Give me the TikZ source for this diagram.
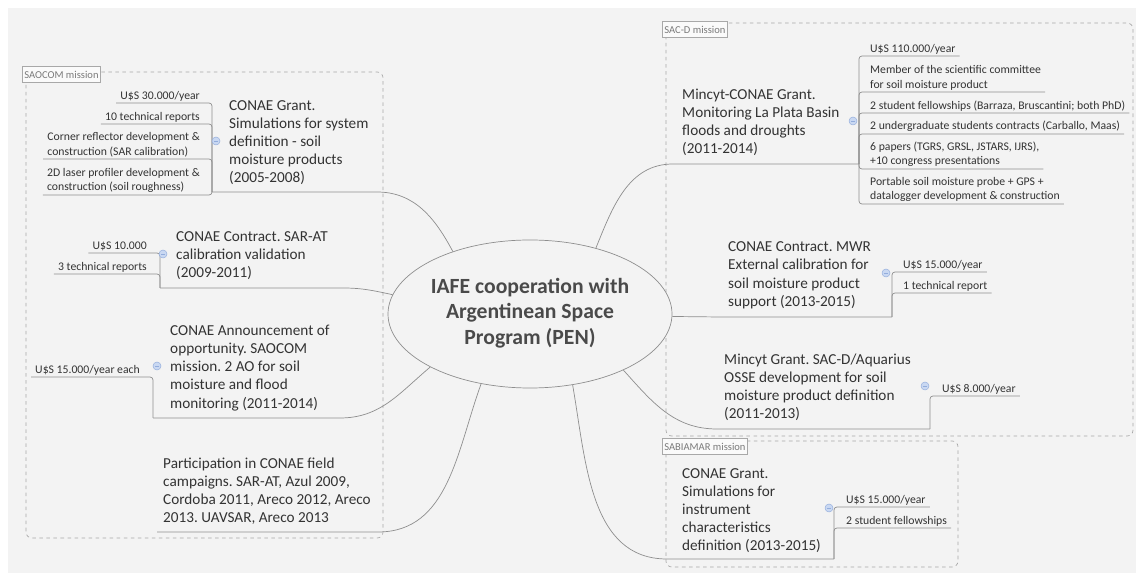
\documentclass[tikz,border=0pt]{standalone}
\usepackage{fontspec}
\setmainfont{Carlito}
\usetikzlibrary{shapes.geometric}
\frenchspacing

\definecolor{bgcol}{HTML}{F3F3F3}
\definecolor{linecol}{HTML}{8E8E8E}
\definecolor{boxcol}{HTML}{A8A8A8}
\definecolor{txtcol}{HTML}{333333}
\definecolor{rootcol}{HTML}{4A4A4A}
\definecolor{labcol}{HTML}{7A7A7A}
\definecolor{foldfill}{HTML}{C9D8F2}
\definecolor{folddraw}{HTML}{93ADDC}

\tikzset{
  topic/.style={anchor=south west, inner sep=0pt, align=left, text=txtcol,
    font=\fontsize{13}{15.5}\selectfont},
  subl/.style={anchor=south east, inner xsep=3.4pt, inner ysep=1.5pt, align=left,
    text=txtcol, font=\fontsize{10}{12.5}\selectfont},
  subr/.style={subl, anchor=south west},
  branch/.style={draw=linecol, line width=0.6pt},
  bracket/.style={branch, rounded corners=2.5pt},
  mission/.style={draw=boxcol, dashed, line width=0.6pt, rounded corners=5pt},
  missionlab/.style={draw=boxcol, line width=1pt, fill=white!60!bgcol, anchor=north west,
    inner xsep=1.5pt, inner ysep=0pt, minimum height=0.47cm, text=labcol,
    font=\fontsize{9}{10}\selectfont},
  fold/.style={circle, draw=folddraw, fill=foldfill, line width=0.4pt,
    minimum size=0.24cm, inner sep=0pt,
    path picture={\draw[folddraw, line width=0.5pt]
      ([xshift=-1.6pt]path picture bounding box.center) --
      ([xshift=1.6pt]path picture bounding box.center);}}
}

\begin{document}
\begin{tikzpicture}[x=0.03cm, y=-0.03cm]
\useasboundingbox (0,0) rectangle (1136,573);
\fill[white] (0,0) rectangle (1136,573);
\fill[bgcol] (8,8) rectangle (1136,573);

  % Mission frames
  \draw[mission] (26,72) rectangle (383,538);
  \draw[mission] (666,23) rectangle (1133,436);
  \draw[mission] (666,441) rectangle (958,567);

  % Central topic
  \node[ellipse, draw=linecol, fill=bgcol, line width=0.6pt, minimum width=8.52cm,
    minimum height=4.44cm, inner sep=0pt] (root) at (530,314) {};
  \node[font=\fontsize{18.5}{22}\selectfont\bfseries, text=rootcol, align=center]
    (roottxt) at (530,313) {IAFE cooperation with\\Argentinean Space\\Program (PEN)};

  %SAOCOM: 1st topic
  \node[topic] (t1) at (229,185) {CONAE Grant.\\Simulations for system\\definition - soil\\moisture products\\(2005-2008)};
  \coordinate (t1w) at (212,192);
  \coordinate (t1e) at (377,192);
  \draw[branch] (t1w) -- (t1e) to[out=0, in=118] (root.141.5);
  \foreach \y/\txt [count=\i] in {103/{U\$S 30.000/year}, 124/{10 technical reports},
      159/{Corner reflector development \&\\construction (SAR calibration)},
      195/{2D laser profiler development \&\\construction (soil roughness)}}{
    \node[subl] (s1\i) at (204,\y) {\txt};
    \draw[bracket] (s1\i.south west) -- (212,\y) -- (t1w);
  }
  \node[fold] (f1) at (216,141) {};

  %SAOCOM: 2nd topic
  \node[topic] (t2) at (176,280) {CONAE Contract. SAR-AT\\calibration validation\\(2009-2011)};
  \coordinate (t2w) at (160,288);
  \coordinate (t2e) at (343,288);
  \draw[branch] (t2w) -- (t2e) to[out=0, in=168] (root.172);
  \foreach \y/\txt [count=\i] in {253/{U\$S 10.000}, 274/{3 technical reports}}{
    \node[subl] (s2\i) at (151,\y) {\txt};
    \draw[bracket] (s2\i.south west) -- (160,\y) -- (t2w);
  }
  \node[fold] (f2) at (163,254) {};

  %SAOCOM: 3rd topic
  \node[topic] (t3) at (170,411) {CONAE Announcement of\\opportunity. SAOCOM\\mission. 2 AO for soil\\moisture and flood\\monitoring (2011-2014)};
  \coordinate (t3w) at (153,418);
  \coordinate (t3e) at (340,418);
  \draw[branch] (t3w) -- (t3e) to[out=0, in=220] (root.208.9);
  \node[subl] (s31) at (144,377) {U\$S 15.000/year each};
  \draw[bracket] (s31.south west) -- (153,377) -- (t3w);
  \node[fold] (f3) at (157,366) {};

  %SAOCOM: 4th topic
  \node[topic] (t4) at (163,525) {Participation in CONAE field\\campaigns. SAR-AT, Azul 2009,\\Cordoba 2011, Areco 2012, Areco\\2013. UAVSAR, Areco 2013};
  \coordinate (t4w) at (157,532);
  \coordinate (t4e) at (378,532);
  \draw[branch] (t4w) -- (t4e) to[out=0, in=250] (root.235.2);

  %SAC-D: 1st topic
  \node[topic] (r1) at (682,156) {Mincyt-CONAE Grant.\\Monitoring La Plata Basin\\floods and droughts\\(2011-2014)};
  \coordinate (r1w) at (673,164);
  \coordinate (r1e) at (859,164);
  \draw[branch] (root.45.4) to[out=68, in=180] (r1w) -- (r1e);
  \foreach \y/\txt [count=\i] in {56/{U\$S 110.000/year},
      92/{Member of the scientific committee\\for soil moisture product},
      113/{2 student fellowships (Barraza, Bruscantini; both PhD)},
      134/{2 undergraduate students contracts (Carballo, Maas)},
      169/{6 papers (TGRS, GRSL, JSTARS, IJRS),\\+10 congress presentations},
      204/{Portable soil moisture probe + GPS +\\datalogger development \& construction}}{
    \node[subr] (q1\i) at (866,\y) {\txt};
    \draw[bracket] (r1e) -- (859,\y) -- (q1\i.south east);
  }
  \node[fold] (f4) at (853,121) {};

  %SAC-D: 2nd topic
  \node[topic] (r2) at (728,309) {CONAE Contract. MWR\\External calibration for\\soil moisture product\\support (2013-2015)};
  \coordinate (r2w) at (720,317);
  \coordinate (r2e) at (892,317);
  \draw[branch] (root.-1.5) -- (r2w) -- (r2e);
  \foreach \y/\txt [count=\i] in {272/{U\$S 15.000/year}, 293/{1 technical report}}{
    \node[subr] (q2\i) at (899,\y) {\txt};
    \draw[bracket] (r2e) -- (892,\y) -- (q2\i.south east);
  }
  \node[fold] (f5) at (886,273) {};

  %SAC-D: 3rd topic
  \node[topic] (r3) at (724,421) {Mincyt Grant. SAC-D/Aquarius\\OSSE development for soil\\moisture product definition\\(2011-2013)};
  \coordinate (r3w) at (717,429);
  \coordinate (r3e) at (930,429);
  \draw[branch] (root.-31.4) to[out=-48, in=180] (r3w) -- (r3e);
  \node[subr] (q31) at (938,396) {U\$S 8.000/year};
  \draw[bracket] (r3e) -- (930,396) -- (q31.south east);
  \node[fold] (f6) at (925,386) {};

  %SABIAMAR: topic
  \node[topic] (r4) at (682,553) {CONAE Grant.\\Simulations for\\instrument\\characteristics\\definition (2013-2015)};
  \coordinate (r4w) at (667,559);
  \coordinate (r4e) at (834,559);
  \draw[branch] (root.-59.8) to[out=-80, in=180] (r4w) -- (r4e);
  \foreach \y/\txt [count=\i] in {507/{U\$S 15.000/year}, 528/{2 student fellowships}}{
    \node[subr] (q4\i) at (842,\y) {\txt};
    \draw[bracket] (r4e) -- (834,\y) -- (q4\i.south east);
  }
  \node[fold] (f7) at (829,508) {};

  % Mission labels
  \node[missionlab] (saocom) at (22,66) {SAOCOM mission};
  \node[missionlab] (sacd) at (662,21) {SAC-D mission};
  \node[missionlab] (sabiamar) at (662,438) {SABIAMAR mission};
\end{tikzpicture}
\end{document}
